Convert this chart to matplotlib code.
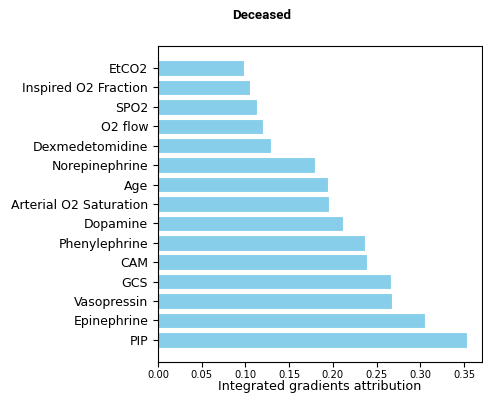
import matplotlib.pyplot as plt

features = ['PIP', 'Epinephrine', 'Vasopressin', 'GCS', 'CAM', 'Phenylephrine',
            'Dopamine', 'Arterial O2 Saturation', 'Age', 'Norepinephrine',
            'Dexmedetomidine', 'O2 flow', 'SPO2', 'Inspired O2 Fraction', 'EtCO2']
attributions = [0.353, 0.305, 0.268, 0.266, 0.2395, 0.237, 0.212, 0.196,
                0.195, 0.180, 0.129, 0.1205, 0.1136, 0.105, 0.098]

fig = plt.figure(figsize=(4.83, 3.96), dpi=100)
ax = fig.add_axes([0.327, 0.086, 0.671, 0.798])
ax.barh(features, attributions, color='skyblue', edgecolor='white', linewidth=0.8)
ax.set_xlabel('Integrated gradients attribution', fontsize=9.2, labelpad=0)
ax.tick_params(axis='y', labelsize=9)
ax.tick_params(axis='x', labelsize=7.2, pad=2.5)
fig.suptitle('Deceased', fontsize=9.6, fontweight='bold', family='Roboto',
             x=0.542, y=0.96, va='center')

fig.savefig('out.png', dpi=100)
